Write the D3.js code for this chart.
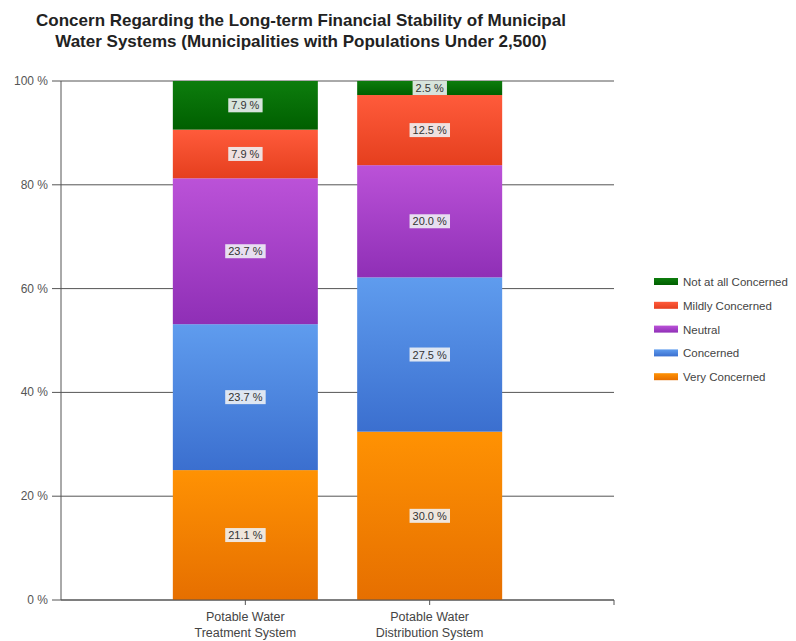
<!DOCTYPE html>
<html>
<head>
<meta charset="utf-8">
<script src="https://cdn.jsdelivr.net/npm/d3@7"></script>
<style>
  body { margin: 0; background: #fff; }
  text { font-family: "Liberation Sans", Arial, sans-serif; }
</style>
</head>
<body>
<svg width="796" height="641"></svg>
<script>
// chart data
const categories = ["Potable Water Treatment System", "Potable Water Distribution System"];
const catLines = [["Potable Water", "Treatment System"], ["Potable Water", "Distribution System"]];
const seriesNames = ["Very Concerned", "Concerned", "Neutral", "Mildly Concerned", "Not at all Concerned"];
const veryConcerned = [21.1, 30.0];
const concerned = [23.7, 27.5];
const neutral = [23.7, 20.0];
const mildlyConcerned = [7.9, 12.5];
const notAtAll = [7.9, 2.5];
const yTicks = [0, 20, 40, 60, 80, 100];

const colors = {
  "Very Concerned": ["#ff9203", "#e66f00"],
  "Concerned": ["#5f9cee", "#3b6fcf"],
  "Neutral": ["#bb52d8", "#8f2fb6"],
  "Mildly Concerned": ["#ff5b3b", "#e53f1e"],
  "Not at all Concerned": ["#0d7d0d", "#005f00"]
};

const rows = categories.map((c, i) => ({
  cat: c,
  "Very Concerned": veryConcerned[i],
  "Concerned": concerned[i],
  "Neutral": neutral[i],
  "Mildly Concerned": mildlyConcerned[i],
  "Not at all Concerned": notAtAll[i]
}));

const svg = d3.select("svg");
const plotL = 61, plotR = 614, plotT = 81, plotB = 600;

const x = d3.scalePoint().domain(categories).range([plotL, plotR]).padding(1);
const y = d3.scaleLinear().domain([0, 100]).range([plotB, plotT]);
const barW = 145;

// gradients
const defs = svg.append("defs");
seriesNames.forEach((s, i) => {
  const g = defs.append("linearGradient").attr("id", "grad" + i)
    .attr("x1", 0).attr("y1", 0).attr("x2", 0).attr("y2", 1);
  g.append("stop").attr("offset", "0%").attr("stop-color", colors[s][0]);
  g.append("stop").attr("offset", "100%").attr("stop-color", colors[s][1]);
});

// title
svg.append("text").attr("x", 301).attr("y", 26).attr("text-anchor", "middle")
  .style("font-size", "17px").style("font-weight", "bold").attr("fill", "#222")
  .text("Concern Regarding the Long-term Financial Stability of Municipal");
svg.append("text").attr("x", 301).attr("y", 47).attr("text-anchor", "middle")
  .style("font-size", "17px").style("font-weight", "bold").attr("fill", "#222")
  .text("Water Systems (Municipalities with Populations Under 2,500)");

// grid lines
svg.append("g").selectAll("line").data(yTicks).join("line")
  .attr("x1", plotL - 9).attr("x2", plotR)
  .attr("y1", d => y(d)).attr("y2", d => y(d))
  .attr("stroke", "#555").attr("stroke-width", 1);

// y axis
svg.append("line").attr("x1", plotL).attr("x2", plotL).attr("y1", plotT).attr("y2", plotB)
  .attr("stroke", "#555");
svg.append("g").selectAll("text").data(yTicks).join("text")
  .attr("x", plotL - 13).attr("y", d => y(d) + 4).attr("text-anchor", "end")
  .style("font-size", "12px").attr("fill", "#555").text(d => d + " %");

// stacked, normalised
const stack = d3.stack().keys(seriesNames).offset(d3.stackOffsetExpand);
const layers = stack(rows);

const gBars = svg.append("g");
layers.forEach((layer, i) => {
  gBars.append("g").selectAll("rect").data(layer).join("rect")
    .attr("x", d => x(d.data.cat) - barW / 2)
    .attr("width", barW)
    .attr("y", d => y(d[1] * 100))
    .attr("height", d => y(d[0] * 100) - y(d[1] * 100))
    .attr("fill", "url(#grad" + i + ")");
});

// value labels
layers.forEach(layer => {
  layer.forEach(d => {
    const cx = x(d.data.cat), cy = (y(d[0] * 100) + y(d[1] * 100)) / 2;
    const label = d.data[layer.key].toFixed(1) + " %";
    const g = svg.append("g");
    const t = g.append("text").attr("x", cx).attr("y", cy + 4).attr("text-anchor", "middle")
      .style("font-size", "11px").attr("fill", "#333").text(label);
    const bb = t.node().getBBox();
    g.insert("rect", "text").attr("x", bb.x - 3).attr("y", bb.y - 1)
      .attr("width", bb.width + 6).attr("height", bb.height + 2)
      .attr("fill", "#eef1f4").attr("opacity", 0.9);
  });
});

// x axis
svg.append("line").attr("x1", plotL).attr("x2", plotR).attr("y1", plotB).attr("y2", plotB)
  .attr("stroke", "#555");
svg.append("line").attr("x1", plotR).attr("x2", plotR).attr("y1", plotB).attr("y2", plotB + 5)
  .attr("stroke", "#555");
categories.forEach((c, i) => {
  svg.append("line").attr("x1", x(c)).attr("x2", x(c)).attr("y1", plotB).attr("y2", plotB + 5)
    .attr("stroke", "#555");
  catLines[i].forEach((ln, j) => {
    svg.append("text").attr("x", x(c)).attr("y", 621 + j * 16).attr("text-anchor", "middle")
      .style("font-size", "12.5px").attr("fill", "#444").text(ln);
  });
});

// legend
const legendOrder = seriesNames.slice().reverse();
const lg = svg.append("g");
legendOrder.forEach((s, i) => {
  const ly = 282 + i * 23.8;
  lg.append("rect").attr("x", 654).attr("y", ly - 4).attr("width", 24).attr("height", 7)
    .attr("fill", "url(#grad" + seriesNames.indexOf(s) + ")");
  lg.append("text").attr("x", 683).attr("y", ly + 4)
    .style("font-size", "11.5px").attr("fill", "#444").text(s);
});
</script>
</body>
</html>
